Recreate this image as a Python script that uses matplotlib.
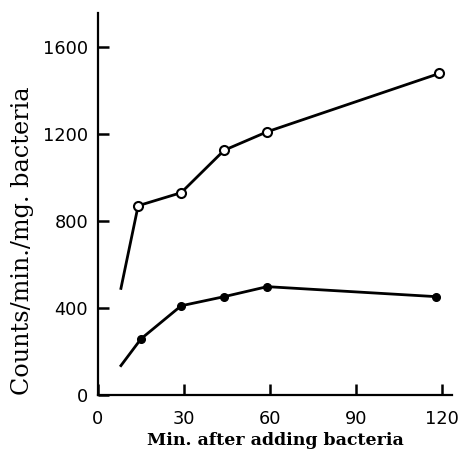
import matplotlib
matplotlib.use("Agg")
import matplotlib.pyplot as plt

# Data
time_open = [8, 14, 29, 44, 59, 119]
counts_open = [490, 870, 930, 1125, 1210, 1478]
time_filled = [8, 15, 29, 44, 59, 118]
counts_filled = [135, 258, 410, 452, 498, 452]
xticks = [0, 30, 60, 90, 120]
yticks = [0, 400, 800, 1200, 1600]

fig = plt.figure(figsize=(4.59, 4.58), dpi=100)
ax = fig.add_axes([0.2135, 0.1376, 0.7715, 0.834])

lw = 2.0
ax.plot(time_open, counts_open, color="black", lw=lw, zorder=2)
ax.plot(time_open[1:], counts_open[1:], linestyle="none", marker="o", ms=6.5,
        mfc="white", mec="black", mew=1.5, zorder=3)
ax.plot(time_filled, counts_filled, color="black", lw=lw, zorder=2)
ax.plot(time_filled[1:], counts_filled[1:], linestyle="none", marker="o", ms=5.5,
        mfc="black", mec="black", zorder=3)

ax.set_xlim(0, 123.5)
ax.set_ylim(0, 1756)
ax.set_xticks(xticks)
ax.set_yticks(yticks)
for s in ["top", "right"]:
    ax.spines[s].set_visible(False)
for s in ["left", "bottom"]:
    ax.spines[s].set_linewidth(1.6)
ax.tick_params(direction="in", length=8, width=1.8, labelsize=12.8)
ax.tick_params(axis="x", pad=11)
ax.tick_params(axis="y", pad=7)
for lab in ax.get_xticklabels() + ax.get_yticklabels():
    lab.set_family("DejaVu Sans")

ax.set_xlabel("Min. after adding bacteria", fontsize=12.5, fontweight="bold",
              family="DejaVu Serif", labelpad=3)
ax.set_ylabel("Counts/min./mg. bacteria", fontsize=17.2, fontweight="normal",
              family="DejaVu Serif")
ax.yaxis.set_label_coords(-0.18, 0.403)

fig.savefig("out.png", dpi=100)
